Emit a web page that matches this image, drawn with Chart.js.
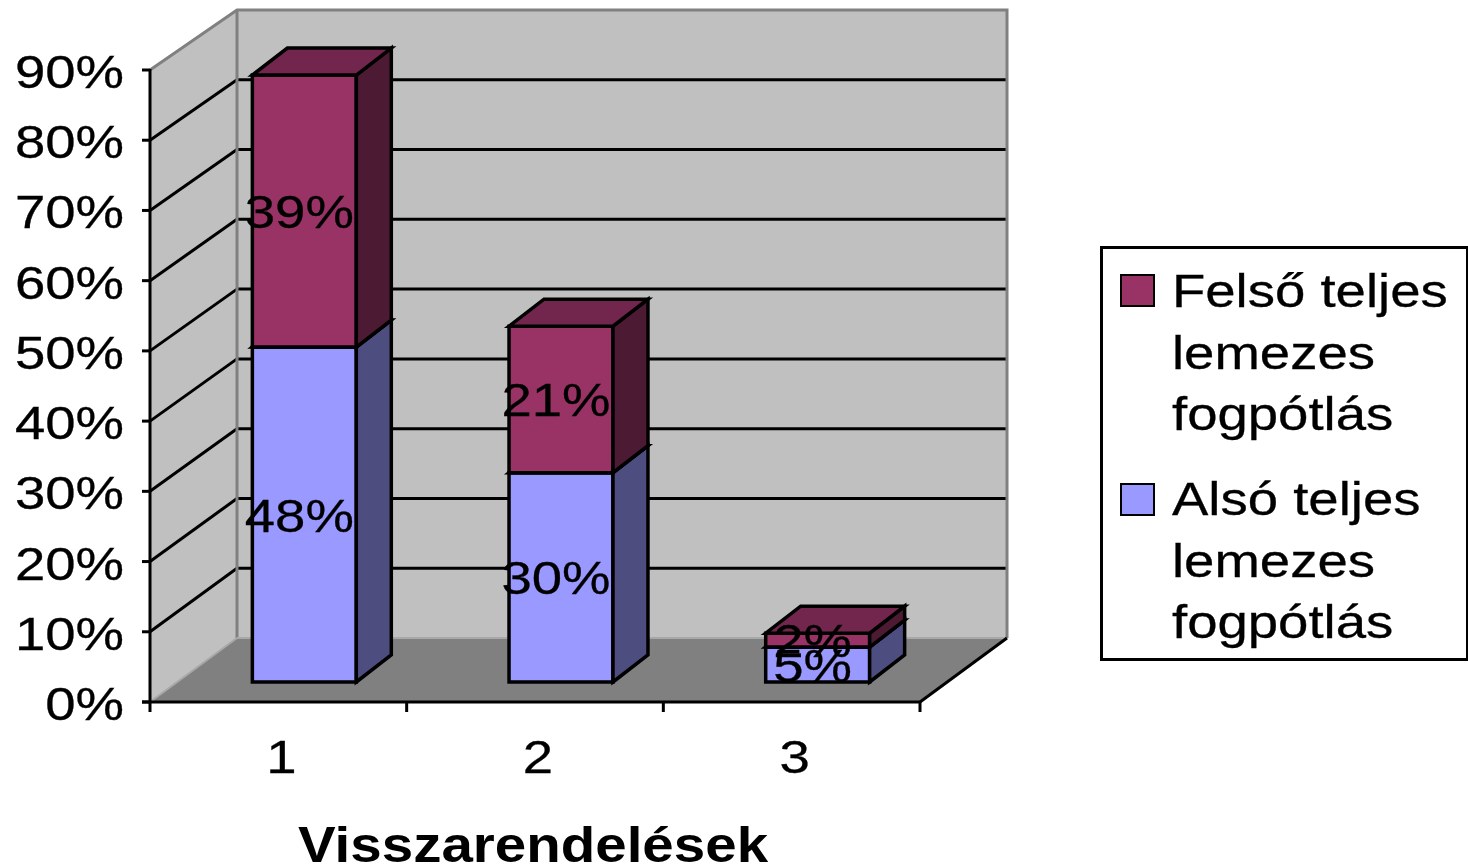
<!DOCTYPE html>
<html><head><meta charset="utf-8">
<script src="https://cdn.jsdelivr.net/npm/chart.js@4.4.1/dist/chart.umd.min.js"></script>
<style>html,body{margin:0;padding:0;background:#fff;overflow:hidden}canvas{display:block}</style>
</head><body>
<canvas id="c" width="1468" height="867"></canvas>
<script>
// ---- data ----
const categories = ['1', '2', '3'];
const alsoValues = [48, 30, 5];      // Alsó teljes lemezes fogpótlás
const felsoValues = [39, 21, 2];     // Felső teljes lemezes fogpótlás
const seriesNames = ['Alsó teljes lemezes fogpótlás', 'Felső teljes lemezes fogpótlás'];
const yTickValues = [0, 10, 20, 30, 40, 50, 60, 70, 80, 90];
const xTitle = 'Visszarendelések';

// ---- styles ----
const FRONT = ['#9999FF', '#993366'];
const SIDE  = ['#4D4D80', '#4D1A33'];
const TOP   = ['#7373BF', '#73264D'];
const FONT = '"Liberation Sans", Arial, Helvetica, sans-serif';
const SX = 1.16;

function sText(ctx, t, x, y, align, font, sx, sw) {
  ctx.save(); ctx.font = font; ctx.translate(x, y); ctx.scale(sx, 1);
  ctx.textAlign = align; ctx.textBaseline = 'alphabetic'; ctx.fillStyle = '#000';
  ctx.fillText(t, 0, 0);
  if (sw) { ctx.strokeStyle = '#000'; ctx.lineWidth = sw; ctx.strokeText(t, 0, 0); }
  ctx.restore();
}
function poly(ctx, pts, fill, stroke, lw) {
  ctx.beginPath(); ctx.moveTo(pts[0][0], pts[0][1]);
  for (let i = 1; i < pts.length; i++) ctx.lineTo(pts[i][0], pts[i][1]);
  ctx.closePath();
  if (fill) { ctx.fillStyle = fill; ctx.fill(); }
  if (stroke) { ctx.strokeStyle = stroke; ctx.lineWidth = lw; ctx.stroke(); }
}
function line(ctx, x1, y1, x2, y2, c, lw) {
  ctx.beginPath(); ctx.moveTo(x1, y1); ctx.lineTo(x2, y2);
  ctx.strokeStyle = c; ctx.lineWidth = lw; ctx.stroke();
}

const DX = 87, DY = -64, BACKSCALE = 628 / 632;  // wall depth
const BDX = 26, BDY = -20, BARSCALE = 0.9935;     // bar front plane
const DDX = 35, DDY = -27;                        // bar depth

function geom(chart) {
  const ys = chart.scales.y, xs = chart.scales.x, ca = chart.chartArea;
  const maxV = yTickValues[yTickValues.length - 1];
  const B = ys.getPixelForValue(0), T = ys.getPixelForValue(maxV);
  return {
    ys, xs, L: ca.left, R: ca.right, B, T, maxV,
    back: v => B + DY + (ys.getPixelForValue(v) - B) * BACKSCALE,
    barY: p => B + BDY + (p - B) * BARSCALE
  };
}
function barBoxes(chart) {
  const g = geom(chart), out = [];
  for (let j = 0; j < categories.length; j++) {
    for (let i = 0; i < 2; i++) {
      const el = chart.getDatasetMeta(i).data[j];
      const x0 = el.x - el.width / 2 + BDX, x1 = el.x + el.width / 2 + BDX;
      out.push({ i, j, x0, x1, yt: g.barY(el.y), yb: g.barY(el.base),
                 v: chart.data.datasets[i].data[j] });
    }
  }
  return out;
}

const plugin3d = {
  id: 'excel3d',
  beforeDatasetsDraw(chart) {
    const ctx = chart.ctx, g = geom(chart);
    const { L, R, B, T, back, ys, xs, maxV } = g;
    ctx.save(); ctx.lineJoin = 'miter'; ctx.lineCap = 'butt';
    // walls & floor
    poly(ctx, [[L, T], [L + DX, back(maxV)], [L + DX, back(0)], [L, B]], '#C0C0C0');
    poly(ctx, [[L + DX, back(maxV)], [R + DX, back(maxV)], [R + DX, back(0)], [L + DX, back(0)]], '#C0C0C0');
    poly(ctx, [[L, B], [R, B], [R + DX, back(0)], [L + DX, back(0)]], '#808080');
    // gridlines
    yTickValues.forEach(v => {
      if (v <= 0 || v >= maxV) return;
      line(ctx, L + DX, back(v), R + DX, back(v), '#000', 3);
      line(ctx, L, ys.getPixelForValue(v), L + DX, back(v), '#000', 3);
    });
    // wall borders
    ctx.beginPath(); ctx.moveTo(L, T); ctx.lineTo(L + DX, back(maxV)); ctx.lineTo(R + DX, back(maxV));
    ctx.lineTo(R + DX, back(0)); ctx.strokeStyle = '#808080'; ctx.lineWidth = 3; ctx.stroke();
    line(ctx, L + DX, back(maxV), L + DX, back(0), '#808080', 3);
    line(ctx, L + DX, back(0), R + DX, back(0), '#A8A8A8', 2);
    line(ctx, L, B, L + DX, back(0), '#A8A8A8', 2);
    line(ctx, R, B, R + DX, back(0), '#000', 3);
    // axes
    line(ctx, L, T - 1, L, B + 1, '#000', 3);
    yTickValues.forEach(v => { const y = ys.getPixelForValue(v); line(ctx, L - 8, y, L, y, '#000', 3); });
    line(ctx, L - 8, B, R + 1, B, '#000', 3);
    for (let k = 0; k <= categories.length; k++) {
      const x = xs.getPixelForValue(k - 0.5);
      line(ctx, x, B, x, B + 10, '#000', 3);
    }
    // bars
    barBoxes(chart).forEach(b => {
      const { i, x0, x1, yt, yb } = b;
      poly(ctx, [[x0, yt], [x1, yt], [x1, yb], [x0, yb]], FRONT[i], '#000', 3.5);
      poly(ctx, [[x1, yb], [x1 + DDX, yb + DDY], [x1 + DDX, yt + DDY], [x1, yt]], SIDE[i], '#000', 3.5);
      poly(ctx, [[x0, yt], [x1, yt], [x1 + DDX, yt + DDY], [x0 + DDX, yt + DDY]], TOP[i], '#000', 3.5);
    });
    ctx.restore();
    return false;
  },
  afterDraw(chart) {
    const ctx = chart.ctx, g = geom(chart);
    const { L, R, B, ys, xs } = g;
    const f47 = '47px ' + FONT;
    const SW = 0.3;
    // data labels
    barBoxes(chart).forEach(b => {
      sText(ctx, b.v + '%', (b.x0 + b.x1) / 2 - 5, (b.yt + b.yb) / 2 + 17, 'center', f47, SX, SW);
    });
    // y tick labels
    yTickValues.forEach(v => sText(ctx, v + '%', 124, ys.getPixelForValue(v) + 18, 'right', f47, SX, SW));
    // category labels
    categories.forEach((c, k) => sText(ctx, c, xs.getPixelForValue(k) + 3, 773, 'center', f47, SX, SW));
    // axis title
    sText(ctx, xTitle, (L + R) / 2 - 2, 862, 'center', 'bold 50px ' + FONT, 1.13, 0);
    // legend
    ctx.save();
    ctx.strokeStyle = '#000'; ctx.lineWidth = 3;
    ctx.strokeRect(1101.5, 247.5, 366, 412);
    ctx.font = f47;
    const order = [1, 0];
    const baselines = [[307, 369, 430], [515, 577, 638]];
    const swY = [275, 484];
    order.forEach((di, n) => {
      ctx.fillStyle = FRONT[di]; ctx.fillRect(1121, swY[n], 33, 31);
      ctx.strokeStyle = '#000'; ctx.lineWidth = 2; ctx.strokeRect(1121, swY[n], 33, 31);
      // wrap
      const words = seriesNames[di].split(' '); const lines = []; let cur = '';
      words.forEach(w => {
        const t = cur ? cur + ' ' + w : w;
        if (cur && ctx.measureText(t).width * SX > 295) { lines.push(cur); cur = w; } else cur = t;
      });
      if (cur) lines.push(cur);
      lines.forEach((t, k) => sText(ctx, t, 1172, baselines[n][k], 'left', f47, SX, SW));
    });
    ctx.restore();
  }
};

new Chart(document.getElementById('c'), {
  type: 'bar',
  data: {
    labels: categories,
    datasets: [
      { label: seriesNames[0], data: alsoValues, backgroundColor: FRONT[0], stack: 's' },
      { label: seriesNames[1], data: felsoValues, backgroundColor: FRONT[1], stack: 's' }
    ]
  },
  options: {
    responsive: false, animation: false,
    layout: { padding: { left: 150, right: 548, top: 70, bottom: 165 } },
    datasets: { bar: { categoryPercentage: 1, barPercentage: 0.405 } },
    scales: {
      x: { display: false, stacked: true, offset: true },
      y: { display: false, stacked: true, min: 0, max: yTickValues[yTickValues.length - 1],
           ticks: { stepSize: 10 } }
    },
    plugins: { legend: { display: false }, tooltip: { enabled: false } }
  },
  plugins: [plugin3d]
});
</script>
</body></html>
